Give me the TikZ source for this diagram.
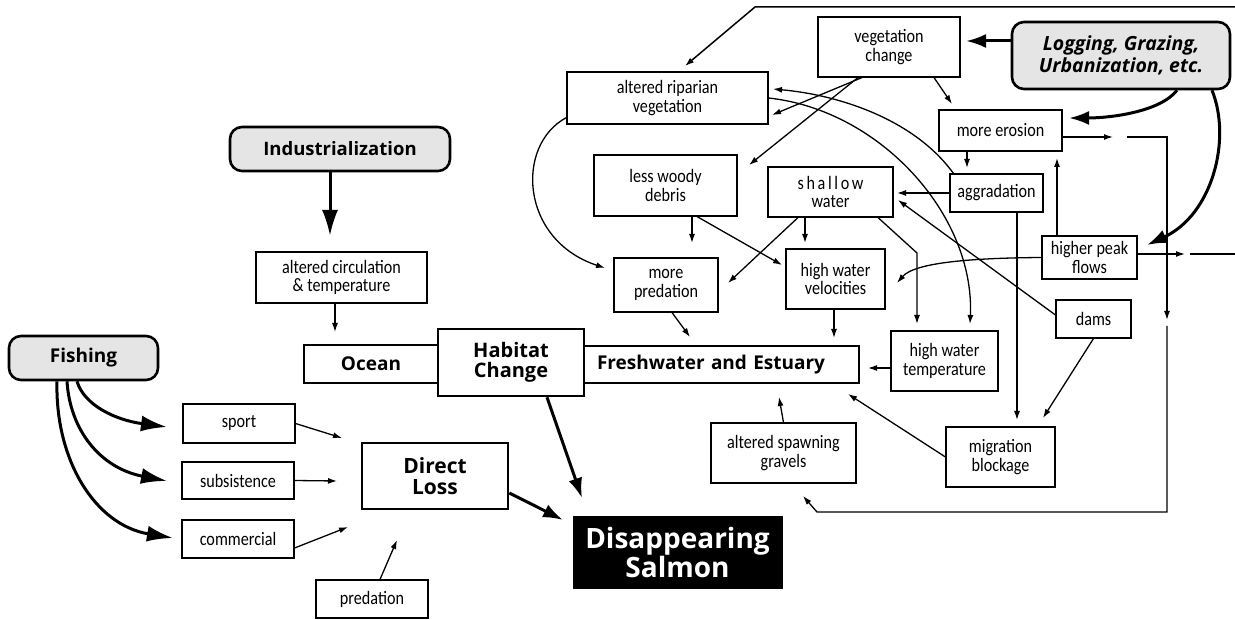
\documentclass[tikz,border=0pt]{standalone}
\usepackage{fontspec}
\setmainfont{Carlito}
\newfontfamily\lblfont{Carlito}[FakeStretch=0.85]
\newfontfamily\osans{Open Sans}
\usetikzlibrary{arrows.meta}
\begin{document}
\begin{tikzpicture}[x=1pt,y=-1pt,
  sm/.style={line width=1.3pt,-{Latex[length=9pt,width=6pt]}},
  big/.style={line width=3pt,-{Latex[length=26pt,width=16pt]}},
  med/.style={line width=3pt,-{Latex[length=20pt,width=14pt]}},
  plain/.style={line width=1.3pt},
  lbl/.style={draw,line width=1.1pt,fill=white,inner sep=0pt,align=center,font=\lblfont\fontsize{19}{18.5}\selectfont},
  heavy/.style={draw,line width=2.6pt,fill=white,inner sep=0pt,align=center,font=\osans\bfseries\fontsize{19}{19}\selectfont},
  cause/.style={draw,line width=2.6pt,fill=black!10,rounded corners=12pt,inner sep=0pt,align=center,font=\osans\bfseries\fontsize{18.5}{20}\selectfont}
]
\useasboundingbox (0,0) rectangle (1235,620);

% ---- nodes ----
\node[cause,minimum width=149pt,minimum height=44pt,font=\osans\bfseries\fontsize{19}{20}\selectfont] (fishing) at (83.5,358) {Fishing};
\node[cause,minimum width=220pt,minimum height=44pt] (industr) at (340,149) {Industrialization};
\node[cause,minimum width=218pt,minimum height=67pt,font=\osans\bfseries\itshape\fontsize{19.5}{21.5}\selectfont] (logging) at (1121,55.5) {Logging, Grazing,\\Urbanization, etc.};

\node[lbl,minimum width=171pt,minimum height=51pt] (altcirc) at (341.5,277.5) {altered circulation\\\& temperature};
\node[heavy,minimum width=134pt,minimum height=38pt] (ocean) at (371,364) {Ocean};
\node[heavy,minimum width=275pt,minimum height=37pt,text width=249pt,align=left] (fresh) at (721.5,364.5) {Freshwater and Estuary};
\node[heavy,minimum width=146pt,minimum height=67pt,font=\osans\bfseries\fontsize{20}{19.5}\selectfont] (habitat) at (511,362.5) {Habitat\\Change};
\node[heavy,minimum width=146pt,minimum height=66pt,font=\osans\bfseries\fontsize{21}{20.5}\selectfont] (direct) at (435,476) {Direct\\Loss};
\node[draw,fill=black,text=white,inner sep=0pt,minimum width=209pt,minimum height=72pt,align=center,font=\osans\bfseries\fontsize{28}{27}\selectfont] (salmon) at (677.5,552) {Disappearing\\Salmon};

\node[lbl,minimum width=112pt,minimum height=39pt] (sport) at (239,423.5) {sport};
\node[lbl,minimum width=112pt,minimum height=37pt] (subsist) at (238,480.5) {subsistence};
\node[lbl,minimum width=112pt,minimum height=38pt] (commercial) at (238,539) {commercial};
\node[lbl,minimum width=112pt,minimum height=38pt] (predation) at (372,599) {predation};

\node[lbl,minimum width=201pt,minimum height=52pt] (riparian) at (667.5,98) {altered riparian\\vegetation};
\node[lbl,minimum width=142pt,minimum height=60pt] (vegchange) at (889,47) {vegetation\\change};
\node[lbl,minimum width=123pt,minimum height=41pt] (erosion) at (1000.5,130.5) {more erosion};
\node[lbl,minimum width=143pt,minimum height=61pt] (woody) at (665.5,185.5) {less woody\\debris};
\node[lbl,minimum width=125pt,minimum height=50pt] (shallow) at (830.5,192) {{\addfontfeature{LetterSpace=14}shallow}\\water};
\node[lbl,minimum width=93pt,minimum height=38pt] (aggrad) at (996.5,193) {aggradation};
\node[lbl,minimum width=104pt,minimum height=54pt] (morepred) at (666,285) {more\\predation};
\node[lbl,minimum width=99pt,minimum height=60pt] (hwv) at (835.5,279) {high water\\velocities};
\node[lbl,minimum width=95pt,minimum height=43pt] (peak) at (1089.5,257.5) {higher peak\\flows};
\node[lbl,minimum width=75pt,minimum height=38pt] (dams) at (1093.5,319) {dams};
\node[lbl,minimum width=107pt,minimum height=60pt] (hwt) at (944.5,361) {high water\\temperature};
\node[lbl,minimum width=145pt,minimum height=60pt] (spawn) at (783.5,453) {altered spawning\\gravels};
\node[lbl,minimum width=109pt,minimum height=60pt] (migr) at (1000.5,457) {migration\\blockage};

% ---- free ends ----
\coordinate (tAC) at (335,332);
\coordinate (tIN) at (330,236);
\coordinate (tSport) at (342,438);
\coordinate (tSub) at (337,481);
\coordinate (tCom) at (348,527);
\coordinate (tPred) at (397,540);
\coordinate (tDL) at (563,520);
\coordinate (tHC) at (582,498);
\coordinate (tF1) at (167,427);
\coordinate (tF2) at (167,481);
\coordinate (tF3) at (173,538);
\coordinate (tLV) at (966,41);
\coordinate (tLE) at (1069,118);
\coordinate (tLP) at (1147,245);
\coordinate (tVR) at (772,115);
\coordinate (tVW) at (749,165);
\coordinate (tVE) at (952,104);
\coordinate (tEA) at (967,168);
\coordinate (tAS) at (897,193);
\coordinate (tDS) at (898,200);
\coordinate (tDM) at (1043,418);
\coordinate (tAM) at (1017,420);
\coordinate (tPE) at (1057,158);
\coordinate (tPV) at (897,283);
\coordinate (tPR) at (1185,254);
\coordinate (tER) at (1113,137);
\coordinate (tAR) at (773,89);
\coordinate (tRT) at (970,324);
\coordinate (tRP) at (605,268);
\coordinate (tWP) at (692,243);
\coordinate (tWV) at (782,265);
\coordinate (tSP) at (728,283);
\coordinate (tSV) at (805,243);
\coordinate (bST) at (917,253);
\coordinate (tST) at (917,324);
\coordinate (tPF) at (690,337);
\coordinate (tVF) at (834,338);
\coordinate (tTF) at (868,368);
\coordinate (tGF) at (779,397);
\coordinate (tMF) at (848,394);
\coordinate (topR) at (1235,7);
\coordinate (topL) at (755,7);
\coordinate (tTop) at (685,66);
\coordinate (eA) at (1127,137);
\coordinate (eB) at (1167,137);
\coordinate (eC) at (1167,320);
\coordinate (eD) at (1167,326);
\coordinate (eE) at (1167,512);
\coordinate (eF) at (817,512);
\coordinate (tBot) at (803,496);
\coordinate (pA) at (1190,254);
\coordinate (pB) at (1235,254);

% ---- connectors ----
\draw[big] (industr.south -| tIN) -- (tIN);
\draw[sm] (altcirc.south -| tAC) -- (tAC);
\draw[sm] (sport.east) -- (tSport);
\draw[sm] (subsist.east) -- (tSub);
\draw[sm] ([yshift=-9pt]commercial.east) -- (tCom);
\draw[sm] ([xshift=8pt]predation.north) -- (tPred);
\draw[med] ([yshift=-17pt]direct.east) -- (tDL);
\draw[med] ([xshift=36pt]habitat.south) -- (tHC);
\draw[big] ([xshift=-6.5pt]fishing.south) .. controls (84,405) and (115,420) .. (tF1);
\draw[big] ([xshift=-16.5pt]fishing.south) .. controls (70,430) and (100,468) .. (tF2);
\draw[big] ([xshift=-26.5pt]fishing.south) .. controls (55,460) and (95,525) .. (tF3);

\draw[med] ([yshift=14.5pt]logging.west) -- (tLV);
\draw[med] ([xshift=56pt]logging.south) .. controls (1160,112) and (1110,118) .. (tLE);
\draw[med] ([xshift=91pt]logging.south) .. controls (1232,140) and (1212,215) .. (tLP);

\draw[sm] ([xshift=-27pt]vegchange.south) -- (tVR);
\draw[sm] ([xshift=-31pt]vegchange.south) -- (tVW);
\draw[sm] ([xshift=45pt]vegchange.south) -- (tVE);
\draw[sm] ([xshift=-33.5pt]erosion.south) -- (tEA);
\draw[sm] (aggrad.west) -- (tAS);
\draw[sm] ([yshift=4pt]dams.west) -- (tDS);
\draw[sm] (dams.south) -- (tDM);
\draw[sm] ([xshift=20.5pt]aggrad.south) -- (tAM);
\draw[sm] ([xshift=-32.5pt]peak.north) -- (tPE);
\draw[sm] (peak.west) .. controls (975,258) and (915,262) .. (tPV);
\draw[sm] ([yshift=3.5pt]peak.east) -- (tPR);
\draw[plain] (pA) -- (pB);
\draw[sm] ([yshift=-6.5pt]erosion.east) -- (tER);
\draw[sm] (eA) -- (eB) -- (eC);
\draw[sm] (eD) -- (eE) -- (eF) -- (tBot);
\draw[sm] ([xshift=4pt]aggrad.north west) .. controls (915,120) and (840,95) .. (tAR);
\draw[sm] (riparian.east) .. controls (880,110) and (975,215) .. (tRT);
\draw[sm] ([yshift=7pt]riparian.south west) .. controls (515,145) and (520,240) .. (tRP);
\draw[sm] ([xshift=26.5pt]woody.south) -- (tWP);
\draw[sm] ([xshift=31.5pt]woody.south) -- (tWV);
\draw[sm] ([xshift=-32.5pt]shallow.south) -- (tSP);
\draw[sm] ([xshift=-25.5pt]shallow.south) -- (tSV);
\draw[sm] ([xshift=47.5pt]shallow.south) -- (bST) -- (tST);
\draw[sm] ([xshift=6pt]morepred.south) -- (tPF);
\draw[sm] ([xshift=-1.5pt]hwv.south) -- (tVF);
\draw[sm] ([yshift=-7pt]hwt.west) -- (tTF);
\draw[sm] (spawn.north) -- (tGF);
\draw[sm] (migr.west) -- (tMF);
\draw[sm,line width=1.5pt] (topR) -- (topL) -- (tTop);
\end{tikzpicture}
\end{document}
